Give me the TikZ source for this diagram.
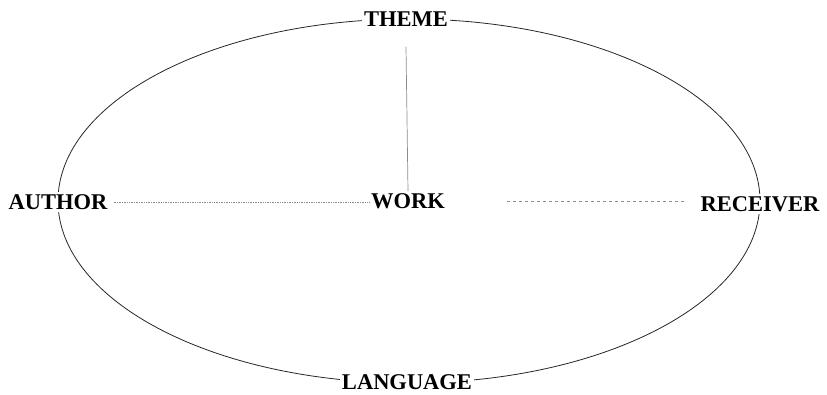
\documentclass[tikz,border=0pt]{standalone}
\usepackage{fontspec}
\setmainfont{Liberation Serif}
\begin{document}
\begin{tikzpicture}[x=1pt, y=-1pt,
  label/.style={fill=white, inner sep=2pt, font=\fontsize{22.5}{26}\selectfont\bfseries},
  ring/.style={line width=0.8pt, black!85},
  link/.style={line width=0.7pt, black!45}
]
  \useasboundingbox (0,0) rectangle (827,395);
  % outer ring
  \coordinate (c) at (409,201);
  \draw[ring] (c) ellipse [x radius=351, y radius=182];
  \node[label] (theme)    at (406,19)  {THEME};
  \node[label] (language) at (407,382) {LANGUAGE};
  \node[label] (author)   at (58,202)  {AUTHOR};
  \node[label] (receiver) at (760,204) {RECEIVER};
  \node[label] (work)     at (408,201) {WORK};
  % links to the work
  \draw[link] (theme.south) ++(0,18) coordinate (t0) -- (work.north);
  \draw[link, densely dotted] (author.east) ++(4,0) coordinate (a0) -- (a0 -| work.west);
  \draw[link, dashed] (work.east) ++(60,0) coordinate (r0) -- ([xshift=-12pt]r0 -| receiver.west);
\end{tikzpicture}
\end{document}
